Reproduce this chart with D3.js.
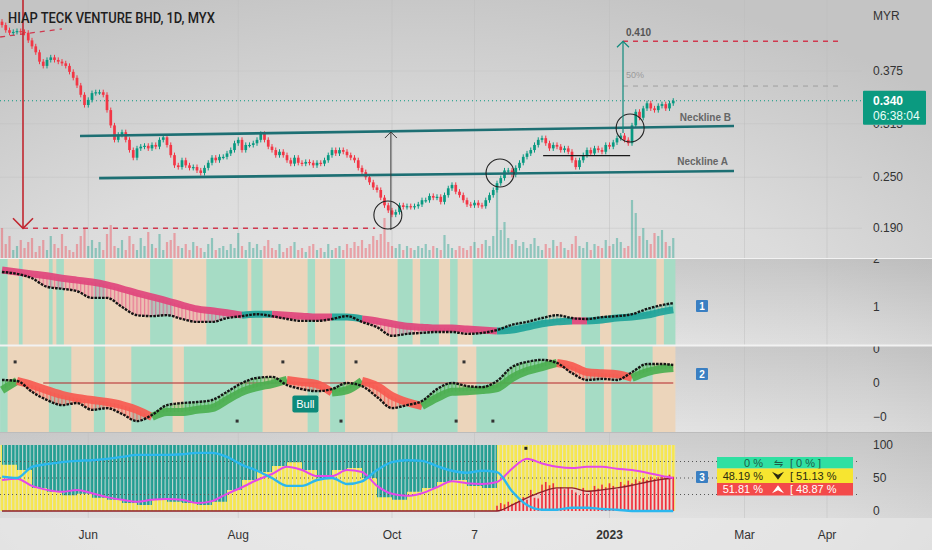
<!DOCTYPE html>
<html><head><meta charset="utf-8">
<script src="https://cdn.jsdelivr.net/npm/d3@7/dist/d3.min.js"></script>
<style>
body{margin:0;background:#e3e3e3;overflow:hidden}
svg{display:block;font-family:"Liberation Sans",Arial,sans-serif}
</style></head>
<body><svg id="c" width="932" height="550"></svg>
<script>
// ---------------- DATA ----------------
const title = "HIAP TECK VENTURE BHD, 1D, MYX";
const currency = "MYR";
const closes = [
0.429,0.423,0.420,0.421,0.422,0.421,0.420,0.411,0.404,0.397,
0.386,0.381,0.388,0.391,0.388,0.386,0.384,0.381,0.374,0.367,
0.358,0.347,0.335,0.341,0.349,0.350,0.350,0.347,0.329,0.311,
0.294,0.300,0.303,0.294,0.282,0.273,0.284,0.286,0.287,0.284,
0.288,0.286,0.294,0.297,0.288,0.276,0.264,0.262,0.270,0.264,
0.261,0.262,0.258,0.255,0.261,0.267,0.273,0.270,0.274,0.274,
0.278,0.282,0.290,0.294,0.282,0.288,0.288,0.290,0.294,0.301,
0.294,0.286,0.282,0.276,0.280,0.276,0.270,0.266,0.273,0.267,
0.266,0.268,0.267,0.264,0.267,0.266,0.270,0.276,0.282,0.278,
0.282,0.280,0.276,0.273,0.270,0.261,0.256,0.250,0.244,0.238,
0.235,0.226,0.217,0.211,0.206,0.209,0.217,0.215,0.216,0.215,
0.216,0.218,0.223,0.223,0.228,0.226,0.227,0.221,0.229,0.237,
0.241,0.233,0.229,0.223,0.218,0.217,0.220,0.217,0.216,0.223,
0.229,0.235,0.243,0.249,0.258,0.258,0.253,0.261,0.267,0.274,
0.278,0.282,0.288,0.294,0.296,0.290,0.284,0.288,0.286,0.282,
0.284,0.280,0.270,0.262,0.270,0.276,0.282,0.278,0.284,0.282,
0.280,0.288,0.286,0.291,0.296,0.299,0.294,0.290,0.311,0.327,
0.320,0.331,0.337,0.331,0.329,0.334,0.336,0.331,0.337,0.340];
const firstOpen = 0.433;
const wickTick = 0.003;
const volumes = [
30,14,22,8,12,18,10,16,20,6, 12,18,8,22,14,10,24,12,8,6,
14,22,30,12,18,10,16,8,24,33, 12,10,18,8,22,14,8,20,12,26,
14,10,24,8,16,18,25,12,10,14, 8,16,12,10,6,14,20,8,10,12,
8,14,10,25,12,8,16,10,14,8, 12,18,10,8,14,6,10,12,16,8,
10,6,12,14,8,10,6,14,8,10, 12,8,14,10,16,12,18,10,14,22,
18,24,40,16,12,10,14,8,12,10, 8,12,10,14,8,12,10,8,23,14,
10,8,12,10,8,12,16,10,14,18, 12,22,68,28,36,20,14,18,12,16,
10,14,20,12,8,14,10,18,12,16, 10,8,14,22,12,10,16,8,14,12,
10,18,12,14,20,16,10,12,58,45, 22,30,18,14,25,22,28,16,12,20];
const priceTicks = [0.375, 0.313, 0.250, 0.190];
const lastPrice = 0.340;
const lastPriceText = "0.340";
const countdown = "06:38:04";
const timeTickIdx = [23, 63, 104, 126, 162, 198, 220];
const timeTickLabels = ["Jun", "Aug", "Oct", "7", "2023", "Mar", "Apr"];

// indicator samples (bar index)
const sampleIdx = [0,4,8,12,16,20,24,28,32,36,40,44,48,52,56,60,64,68,72,76,80,84,88,92,96,100,104,108,112,116,120,124,128,132,136,140,144,148,152,156,160,164,168,172,176,179];
// pane 1
const p1Slow = [1.77,1.73,1.69,1.65,1.60,1.56,1.52,1.46,1.38,1.29,1.21,1.13,1.04,0.96,0.92,0.88,0.83,0.85,0.85,0.83,0.81,0.79,0.79,0.79,0.75,0.71,0.65,0.60,0.58,0.56,0.56,0.54,0.52,0.50,0.52,0.58,0.65,0.69,0.71,0.71,0.73,0.77,0.79,0.83,0.90,0.94];
const p1Fast = [1.73,1.69,1.60,1.42,1.38,1.33,1.19,1.19,1.00,0.83,0.81,0.83,0.75,0.69,0.69,0.77,0.81,0.85,0.81,0.75,0.71,0.71,0.75,0.81,0.69,0.58,0.40,0.44,0.46,0.48,0.48,0.44,0.46,0.52,0.63,0.69,0.77,0.83,0.77,0.75,0.79,0.81,0.85,0.96,1.04,1.08];
const p1State = [0,0,0,0,0,0,0,0,0,0,0,0,0,0,0,0,1,1,0,0,0,0,1,1,0,0,0,0,0,0,0,0,0,1,1,1,1,1,0,1,1,1,1,1,1,1];
const p1BandStart = [0,2,5,6,13,14,15,17,25,28,40,46,55,66,67,70,82,84,88,92,106,110,112,117,120,122,126,146,155,160,163,175,177];
const p1BandState = [1,0,1,0,1,0,1,0,1,0,1,0,1,0,1,0,1,0,1,0,1,0,1,0,1,0,1,0,1,0,1,0,1];
const p1Ticks = [2, 1], p1TickLabels = ["2", "1"];
// pane 2
const p2Slow = [-0.21,0.06,-0.06,-0.21,-0.35,-0.44,-0.50,-0.56,-0.65,-0.79,-1.00,-0.85,-0.85,-0.79,-0.74,-0.50,-0.26,-0.12,-0.03,0.09,0.03,-0.03,-0.28,-0.21,0.06,-0.09,-0.38,-0.56,-0.68,-0.44,-0.26,-0.24,-0.21,-0.15,0.15,0.35,0.47,0.59,0.50,0.32,0.29,0.26,0.15,0.32,0.41,0.44];
const p2Fast = [0.09,0.06,-0.26,-0.50,-0.65,-0.59,-0.79,-0.74,-0.91,-1.12,-0.94,-0.65,-0.59,-0.56,-0.50,-0.26,0.00,0.15,0.18,-0.06,-0.18,-0.24,-0.18,0.00,-0.09,-0.41,-0.74,-0.65,-0.53,-0.18,0.00,-0.09,-0.12,0.06,0.47,0.62,0.68,0.59,0.29,0.09,0.12,0.09,0.32,0.56,0.56,0.53];
const p2State = [1,0,0,0,0,0,0,0,0,0,1,1,1,1,1,1,1,1,1,0,0,0,1,1,0,0,0,0,1,1,1,1,1,1,1,1,1,0,0,0,0,0,1,1,1,1];
const p2BandStart = [0,2,13,19,25,28,35,46,49,70,82,85,88,92,106,122,127,146,156,161,163,174];
const p2BandState = [1,0,1,0,1,0,1,0,1,0,1,0,1,0,1,0,1,0,1,0,1,0];
const p2Ticks = [1, 0, -1], p2TickLabels = ["0", "0", "\u22120"];
const p2ZeroLineFrom = 11;
const p2MarkTop = [3.5, 74.9, 94.4, 123.2], p2MarkTopVal = 0.62;
const p2MarkBot = [62.7, 90.4, 121.1, 130.9], p2MarkBotVal = -1.12;
const bullLabel = {i: 80.9, v: -0.62, text: "Bull"};
// pane 3
const p3Blue = [52,50,67,71,74,76,77,79,82,85,85,85,86,88,88,82,70,61,50,38,38,47,50,41,45,62,74,77,76,68,61,58,61,59,30,9,2,2,5,5,3,2,0,0,0,0];
const p3Magenta = [47,49,38,32,29,32,27,21,17,14,17,18,17,12,15,26,36,47,56,67,62,53,53,62,59,38,26,23,27,36,45,42,41,44,64,79,72,67,65,67,67,64,62,58,53,50];
const p3DarkRed = [0,0,0,0,0,0,0,0,0,0,0,0,0,0,0,0,0,0,0,0,0,0,0,0,0,0,0,0,0,0,0,0,0,0,9,20,29,35,35,30,32,35,39,44,48,50];
const p3TealBound = [70,62,35,29,24,26,20,17,12,9,17,14,12,9,14,32,47,59,68,74,62,50,62,65,50,21,17,29,35,44,47,38,35,100,100,100,100,100,100,100,100,100,100,100,100,100];
const redBarStart = 132;
const redBars = [8,12,10,14,11,13,18,21,17,32,20,19,40,44,39,42,34,36,33,35,32,28,24,35,26,30,38,34,40,36,42,38,33,44,40,46,42,48,45,50,47,52,49,51,53,50,55,52];
const p3Ticks = [100, 50, 0], p3TickLabels = ["100", "50", "0"];
const p3Levels = [75, 50, 25];
const p3Mark = {i: 139.7, v: 95};
const tableRows = [
  ["0 %", "\u21CB", "[ 0 % ]"],
  ["48.19 %", "down", "[ 51.13 %"],
  ["51.81 %", "up", "[ 48.87 %"]];
// drawings on price pane (bar index, price)
const dropArrow = {i: 5.6, from: 0.4585, to: 0.190};
const supportLevel = {price: 0.190, from: 5.6, to: 99.5};
const topDash = [[-0.5, 0.415], [16, 0.4245]];
const necklineB = [[20.8, 0.2985], [195.2, 0.3103]];
const necklineA = [[25.9, 0.2490], [195.2, 0.2573]];
const baseLine = [[144.3, 0.2755], [167.5, 0.2755]];
const circles = [[102.9, 0.2056], [132.8, 0.2550], [167.5, 0.3079]];
const measureArrow = {i: 103.7, from: 0.1879, to: 0.3032};
const targetArrow = {i: 165.6, from: 0.3020, to: 0.410};
const targetLevel = {price: 0.410, from: 165.6, to: 223.5, label: "0.410"};
const halfLevel = {price: 0.3573, from: 165.6, to: 223.5, label: "50%"};

// ---------------- SCALES ----------------
const W = 932, H = 550, plotRight = 862, dataRight = 677;
const x = d3.scaleLinear().domain([0, 229.333]).range([2, 862]);
const yP = d3.scaleLinear().domain([0.190, 0.375]).range([228.25, 71]);
const yV = d3.scaleLinear().domain([0, 100]).range([258, 158]);
const y1 = d3.scaleLinear().domain([1, 2]).range([307, 259]);
const y2 = d3.scaleLinear().domain([-1, 1]).range([417, 349]);
const y3 = d3.scaleLinear().domain([0, 100]).range([511, 445]);

const svg = d3.select('#c');
const defs = svg.append('defs');

// background
const rg = defs.append('radialGradient').attr('id', 'bg').attr('cx', '45%').attr('cy', '75%').attr('r', '80%');
rg.append('stop').attr('offset', '0%').attr('stop-color', '#ececec');
rg.append('stop').attr('offset', '60%').attr('stop-color', '#dcdcdc');
rg.append('stop').attr('offset', '100%').attr('stop-color', '#c4c4c4');
svg.append('rect').attr('width', W).attr('height', H).attr('fill', 'url(#bg)');
const pg = defs.append('linearGradient').attr('id', 'paneShade').attr('x1', 0).attr('y1', 0).attr('x2', 0).attr('y2', 1);
pg.append('stop').attr('offset', '0%').attr('stop-color', '#000').attr('stop-opacity', 0.10);
pg.append('stop').attr('offset', '100%').attr('stop-color', '#000').attr('stop-opacity', 0);
[[259, 86], [346, 86], [433, 85]].forEach(([t, h]) => svg.append('rect').attr('x', 0).attr('y', t).attr('width', W).attr('height', h).attr('fill', 'url(#paneShade)'));
svg.append('rect').attr('x', 0).attr('y', 518).attr('width', W).attr('height', 32).attr('fill', '#e9e9e9').attr('opacity', 0.6);

function clip(id, x0, y0, w, h) {
  defs.append('clipPath').attr('id', id).append('rect').attr('x', x0).attr('y', y0).attr('width', w).attr('height', h);
}
clip('cMain', 0, 0, plotRight, 258);
clip('cP1', 0, 259, dataRight, 86);
clip('cP2', 0, 346, dataRight, 86);
clip('cP1ax', 860, 258, 72, 87);
clip('cP2ax', 860, 346, 72, 86);
clip('cTable', 717, 440, 136, 70);
// price labels: everything except the last-price box area
const cpa = defs.append('clipPath').attr('id', 'cPriceAx');
cpa.append('rect').attr('x', 860).attr('y', 0).attr('width', 72).attr('height', 90);
cpa.append('rect').attr('x', 860).attr('y', 125).attr('width', 72).attr('height', 133);

function stripe(id, color, bgOp, lineOp) {
  const p = defs.append('pattern').attr('id', id).attr('patternUnits', 'userSpaceOnUse')
    .attr('width', 3.75).attr('height', 20).attr('x', 1.4).attr('y', 0);
  p.append('rect').attr('width', 3.75).attr('height', 20).attr('fill', color).attr('opacity', bgOp);
  p.append('rect').attr('width', 1.2).attr('height', 20).attr('fill', color).attr('opacity', lineOp);
}
stripe('sPink', '#e8487e', 0.15, 0.6);
stripe('sTeal', '#1ea89b', 0.15, 0.55);
stripe('sRed', '#f5544c', 0.25, 0.75);
stripe('sGreen', '#47ad47', 0.25, 0.75);
const gap = defs.append('pattern').attr('id', 'gap').attr('patternUnits', 'userSpaceOnUse')
  .attr('width', 3.75).attr('height', 20).attr('x', 3.35).attr('y', 0);
gap.append('rect').attr('width', 1.05).attr('height', 20).attr('fill', '#e3e3e3').attr('opacity', 0.85);

// ---------------- GRID ----------------
const grid = svg.append('g');
grid.selectAll('line.v').data(timeTickIdx).join('line')
  .attr('x1', d => x(d)).attr('x2', d => x(d)).attr('y1', 0).attr('y2', 518)
  .attr('stroke', '#bdbdbd').attr('stroke-opacity', 0.45).attr('stroke-width', 1);
grid.selectAll('line.h').data(priceTicks).join('line')
  .attr('x1', 0).attr('x2', plotRight).attr('y1', d => yP(d)).attr('y2', d => yP(d))
  .attr('stroke', '#bdbdbd').attr('stroke-opacity', 0.35);

// ---------------- MAIN PANE ----------------
const candles = closes.map((c, i) => {
  const o = i === 0 ? firstOpen : closes[i - 1];
  return {i, o, c, h: Math.max(o, c) + wickTick, l: Math.min(o, c) - wickTick, v: volumes[i], up: c >= o};
});
const main = svg.append('g').attr('clip-path', 'url(#cMain)');
main.selectAll('rect.vol').data(candles).join('rect')
  .attr('x', d => x(d.i) - 1.1).attr('width', 2.2)
  .attr('y', d => yV(d.v)).attr('height', d => yV(0) - yV(d.v))
  .attr('fill', d => d.up ? 'rgba(8,153,129,0.38)' : 'rgba(242,54,69,0.38)');

// red dashed support + top dash
main.append('line').attr('x1', x(supportLevel.from)).attr('x2', x(supportLevel.to))
  .attr('y1', yP(supportLevel.price)).attr('y2', yP(supportLevel.price))
  .attr('stroke', '#d0394f').attr('stroke-width', 1.3).attr('stroke-dasharray', '5,5');
main.append('line').attr('x1', x(topDash[0][0])).attr('y1', yP(topDash[0][1]))
  .attr('x2', x(topDash[1][0])).attr('y2', yP(topDash[1][1]))
  .attr('stroke', '#d0394f').attr('stroke-width', 1.3).attr('stroke-dasharray', '5,5');
// target & 50% levels
main.append('line').attr('x1', x(targetLevel.from)).attr('x2', x(targetLevel.to))
  .attr('y1', yP(targetLevel.price)).attr('y2', yP(targetLevel.price))
  .attr('stroke', '#d0394f').attr('stroke-width', 1.3).attr('stroke-dasharray', '5,5');
main.append('line').attr('x1', x(halfLevel.from)).attr('x2', x(halfLevel.to))
  .attr('y1', yP(halfLevel.price)).attr('y2', yP(halfLevel.price))
  .attr('stroke', '#9e9e9e').attr('stroke-width', 1).attr('stroke-dasharray', '5,5');
// last price dotted
main.append('line').attr('x1', 0).attr('x2', plotRight).attr('y1', yP(lastPrice)).attr('y2', yP(lastPrice))
  .attr('stroke', '#089981').attr('stroke-width', 1).attr('stroke-dasharray', '1,3');

// candles
const cg = main.append('g');
cg.selectAll('line').data(candles).join('line')
  .attr('x1', d => x(d.i)).attr('x2', d => x(d.i)).attr('y1', d => yP(d.h)).attr('y2', d => yP(d.l))
  .attr('stroke', d => d.up ? '#089981' : '#f23645').attr('stroke-width', 1);
cg.selectAll('rect').data(candles).join('rect')
  .attr('x', d => x(d.i) - 1.35).attr('width', 2.7)
  .attr('y', d => yP(Math.max(d.o, d.c)))
  .attr('height', d => Math.max(1.2, Math.abs(yP(d.o) - yP(d.c))))
  .attr('fill', d => d.up ? '#089981' : '#f23645');

// necklines
[necklineB, necklineA].forEach(l => main.append('line')
  .attr('x1', x(l[0][0])).attr('y1', yP(l[0][1])).attr('x2', x(l[1][0])).attr('y2', yP(l[1][1]))
  .attr('stroke', '#1d6f73').attr('stroke-width', 2.6));
main.append('line').attr('x1', x(baseLine[0][0])).attr('x2', x(baseLine[1][0]))
  .attr('y1', yP(baseLine[0][1])).attr('y2', yP(baseLine[1][1])).attr('stroke', '#1a1a1a').attr('stroke-width', 1.2);
main.selectAll('circle.m').data(circles).join('circle')
  .attr('cx', d => x(d[0])).attr('cy', d => yP(d[1])).attr('r', 14)
  .attr('fill', 'none').attr('stroke', '#222').attr('stroke-width', 1.1);

function vArrow(a, color, w, head) {
  const xx = x(a.i), yt = yP(a.to), yb = yP(a.from);
  main.append('line').attr('x1', xx).attr('x2', xx).attr('y1', yt).attr('y2', yb).attr('stroke', color).attr('stroke-width', w);
  const dir = yt < yb ? 1 : -1;
  main.append('path').attr('d', `M${xx - head},${yt + dir * head}L${xx},${yt}L${xx + head},${yt + dir * head}`)
    .attr('fill', 'none').attr('stroke', color).attr('stroke-width', w);
}
vArrow(measureArrow, '#3a3a3a', 1, 6);
vArrow(targetArrow, '#0f8a7c', 1.2, 6);
vArrow({i: dropArrow.i, from: dropArrow.from, to: dropArrow.to}, '#c0262f', 1.6, 10);

main.append('text').attr('x', x(targetLevel.from) + 3).attr('y', yP(targetLevel.price) - 5)
  .attr('font-size', 10).attr('font-weight', 'bold').attr('fill', '#555').text(targetLevel.label);
main.append('text').attr('x', x(halfLevel.from) + 3).attr('y', yP(halfLevel.price) - 8)
  .attr('font-size', 9).attr('fill', '#9a9a9a').text(halfLevel.label);
main.append('text').attr('x', x(necklineB[1][0]) - 3).attr('y', yP(necklineB[1][1]) - 5)
  .attr('text-anchor', 'end').attr('font-size', 10).attr('font-weight', 'bold').attr('fill', '#666').text('Neckline B');
main.append('text').attr('x', x(necklineA[1][0]) - 6).attr('y', yP(necklineA[1][1]) - 6)
  .attr('text-anchor', 'end').attr('font-size', 10).attr('font-weight', 'bold').attr('fill', '#666').text('Neckline A');

svg.append('text').attr('x', 8).attr('y', 23).attr('font-size', 14).attr('font-family', 'Roboto, "Liberation Sans", sans-serif')
  .attr('font-weight', 500).attr('fill', '#1e1e1e').attr('textLength', 207).attr('lengthAdjust', 'spacingAndGlyphs').text(title);

// price axis
const axisX = 873;
svg.append('text').attr('x', axisX).attr('y', 20).attr('font-size', 12).attr('fill', '#333').text(currency);
svg.append('g').attr('clip-path', 'url(#cPriceAx)')
  .selectAll('text.pt').data(priceTicks).join('text').attr('class', 'pt')
  .attr('x', axisX).attr('y', d => yP(d)).attr('dy', '0.35em').attr('font-size', 12).attr('fill', '#333')
  .text(d3.format('.3f'));
const lpY = yP(lastPrice);
svg.append('rect').attr('x', 863).attr('y', lpY - 10).attr('width', 63).attr('height', 34).attr('rx', 1).attr('fill', '#0b9a80');
svg.append('text').attr('x', axisX).attr('y', lpY + 4).attr('font-size', 12).attr('font-weight', 'bold').attr('fill', '#fff').text(lastPriceText);
svg.append('text').attr('x', axisX).attr('y', lpY + 19).attr('font-size', 12).attr('fill', '#e8fff8').text(countdown);

// ---------------- RIBBON PANES ----------------
function runsOf(states) {
  const r = []; let s = 0;
  for (let k = 1; k <= states.length; k++) {
    if (k === states.length || states[k] !== states[s]) { r.push({state: states[s], from: s, to: Math.min(k, states.length - 1)}); s = k; }
  }
  return r;
}
function bands(g, starts, states, top, h, cols) {
  g.selectAll('rect.b').data(starts).join('rect')
    .attr('x', (d, k) => x(d - 0.5)).attr('y', top)
    .attr('width', (d, k) => x((k + 1 < starts.length ? starts[k + 1] : 180) - 0.5) - x(d - 0.5) + 0.3)
    .attr('height', h).attr('fill', (d, k) => cols[states[k]]);
}
function ribbonPane(g, slow, fast, states, y, fills, strokes, sw) {
  const pts = sampleIdx.map((i, k) => ({i, s: slow[k], f: fast[k]}));
  const rs = runsOf(states);
  rs.forEach(r => {
    const seg = pts.slice(r.from, r.to + 1);
    g.append('path').datum(seg).attr('d', d3.area().x(d => x(d.i)).y0(d => y(d.s)).y1(d => y(d.f)).curve(d3.curveMonotoneX))
      .attr('fill', fills[r.state]);
  });
  rs.forEach(r => {
    const seg = pts.slice(r.from, r.to + 1);
    g.append('path').datum(seg).attr('d', d3.line().x(d => x(d.i)).y(d => y(d.s)).curve(d3.curveMonotoneX))
      .attr('fill', 'none').attr('stroke', strokes[r.state]).attr('stroke-width', sw).attr('stroke-opacity', 0.92);
  });
  g.append('path').datum(pts).attr('d', d3.line().x(d => x(d.i)).y(d => y(d.f)).curve(d3.curveMonotoneX))
    .attr('fill', 'none').attr('stroke', '#141414').attr('stroke-width', 2.4).attr('stroke-dasharray', '2.6,1.15');
}
const g1 = svg.append('g').attr('clip-path', 'url(#cP1)');
bands(g1, p1BandStart, p1BandState, 259, 86, ['#ecd5bb', '#a6dcc5']);
ribbonPane(g1, p1Slow, p1Fast, p1State, y1, ['url(#sPink)', 'url(#sTeal)'], ['#e0457c', '#1ea399'], 7);

const g2 = svg.append('g').attr('clip-path', 'url(#cP2)');
bands(g2, p2BandStart, p2BandState, 346, 86, ['#ecd5bb', '#a6dcc5']);
g2.append('line').attr('x1', x(p2ZeroLineFrom)).attr('x2', x(179)).attr('y1', y2(0)).attr('y2', y2(0))
  .attr('stroke', '#b3262b').attr('stroke-width', 1.1);
ribbonPane(g2, p2Slow, p2Fast, p2State, y2, ['url(#sRed)', 'url(#sGreen)'], ['#f75a50', '#4caf50'], 8);
g2.selectAll('rect.mt').data(p2MarkTop.map(i => [i, p2MarkTopVal]).concat(p2MarkBot.map(i => [i, p2MarkBotVal])))
  .join('rect').attr('x', d => x(d[0]) - 1.5).attr('y', d => y2(d[1]) - 1.5).attr('width', 3).attr('height', 3).attr('fill', '#333');
const bl = g2.append('g').attr('transform', `translate(${x(bullLabel.i)},${y2(bullLabel.v)})`);
bl.append('rect').attr('x', -13).attr('y', -8.5).attr('width', 26).attr('height', 17).attr('rx', 2).attr('fill', '#0d8a7a');
bl.append('text').attr('text-anchor', 'middle').attr('dy', '0.36em').attr('font-size', 11).attr('fill', '#fff').text(bullLabel.text);

// ---------------- PANE 3 ----------------
const g3 = svg.append('g');
const pts3 = sampleIdx.map((i, k) => ({i, b: p3Blue[k], m: p3Magenta[k], r: p3DarkRed[k], t: p3TealBound[k]}));
g3.append('rect').attr('x', x(-0.5)).attr('width', x(179.5) - x(-0.5)).attr('y', y3(100)).attr('height', y3(0) - y3(100)).attr('fill', '#f6e64e');
g3.append('path').datum(pts3).attr('d', d3.area().x(d => x(d.i)).y0(y3(100)).y1(d => y3(d.t)).curve(d3.curveStepAfter))
  .attr('fill', '#239e92');
g3.append('path').datum(pts3).attr('d', d3.area().x(d => x(d.i)).y0(y3(0)).y1(d => y3(d.r)).curve(d3.curveMonotoneX))
  .attr('fill', '#f3bccb').attr('opacity', 0.85);
g3.append('rect').attr('x', x(-0.5)).attr('width', x(179.5) - x(-0.5)).attr('y', y3(100)).attr('height', y3(0) - y3(100)).attr('fill', 'url(#gap)');
g3.selectAll('rect.rb').data(redBars).join('rect')
  .attr('x', (d, k) => x(redBarStart + k) - 0.8).attr('width', 1.6)
  .attr('y', d => y3(d)).attr('height', d => y3(0) - y3(d)).attr('fill', '#ee2f3c');
g3.selectAll('line.lv').data(p3Levels).join('line')
  .attr('x1', 0).attr('x2', 860).attr('y1', d => y3(d)).attr('y2', d => y3(d))
  .attr('stroke', '#555').attr('stroke-width', 1).attr('stroke-dasharray', '1,3');
g3.append('path').datum(pts3).attr('d', d3.line().x(d => x(d.i)).y(d => y3(d.r)).curve(d3.curveMonotoneX))
  .attr('fill', 'none').attr('stroke', '#8e1f2a').attr('stroke-width', 1.4);
g3.append('path').datum(pts3).attr('d', d3.line().x(d => x(d.i)).y(d => y3(d.m)).curve(d3.curveMonotoneX))
  .attr('fill', 'none').attr('stroke', '#e547e8').attr('stroke-width', 2);
g3.append('path').datum(pts3).attr('d', d3.line().x(d => x(d.i)).y(d => y3(d.b)).curve(d3.curveMonotoneX))
  .attr('fill', 'none').attr('stroke', '#2bb7ee').attr('stroke-width', 2.4);
g3.append('rect').attr('x', x(p3Mark.i) - 1.5).attr('y', y3(p3Mark.v) - 1.5).attr('width', 3).attr('height', 3).attr('fill', '#222');

// table
const tb = svg.append('g').attr('clip-path', 'url(#cTable)');
const rowY = [457, 468.5, 483], rowH = [11.5, 14.5, 12.5];
const rowFill = ['#2fe0a2', '#f7e530', '#f34a4a'], rowText = ['#1d5c48', '#2b2b10', '#ffffff'];
tableRows.forEach((r, k) => {
  tb.append('rect').attr('x', 717).attr('y', rowY[k]).attr('width', 136).attr('height', rowH[k]).attr('fill', rowFill[k]);
  const cy = rowY[k] + rowH[k] / 2;
  tb.append('text').attr('x', 763).attr('y', cy).attr('dy', '0.36em').attr('text-anchor', 'end').attr('font-size', 11).attr('fill', rowText[k]).text(r[0]);
  if (r[1] === 'down' || r[1] === 'up') {
    const s = r[1] === 'down' ? 1 : -1;
    tb.append('path').attr('d', `M${772},${cy - 4 * s}L${778},${cy + 4 * s}L${784},${cy - 4 * s}L${778},${cy - 1 * s}Z`).attr('fill', rowText[k]);
  } else {
    tb.append('text').attr('x', 778).attr('y', cy).attr('dy', '0.36em').attr('text-anchor', 'middle').attr('font-size', 11).attr('fill', rowText[k]).text(r[1]);
  }
  tb.append('text').attr('x', 790).attr('y', cy).attr('dy', '0.36em').attr('font-size', 11).attr('fill', rowText[k]).text(r[2]);
});

// pane axes
function axisLabels(vals, labels, scale, clipId) {
  const g = svg.append('g');
  if (clipId) g.attr('clip-path', `url(#${clipId})`);
  g.selectAll('text').data(vals).join('text').attr('x', axisX).attr('y', d => scale(d)).attr('dy', '0.35em')
    .attr('font-size', 12).attr('fill', '#333').text((d, k) => labels[k]);
}
axisLabels(p1Ticks, p1TickLabels, y1, 'cP1ax');
axisLabels(p2Ticks, p2TickLabels, y2, 'cP2ax');
axisLabels(p3Ticks, p3TickLabels, y3, null);

// pane number boxes
[[306, '1'], [374, '2'], [477, '3']].forEach(([cy, t]) => {
  svg.append('rect').attr('x', 696).attr('y', cy - 6).attr('width', 12).attr('height', 12).attr('rx', 1).attr('fill', '#3a7fc2');
  svg.append('text').attr('x', 702).attr('y', cy).attr('dy', '0.36em').attr('text-anchor', 'middle')
    .attr('font-size', 10).attr('font-weight', 'bold').attr('fill', '#fff').text(t);
});

// separators
svg.append('line').attr('x1', 0).attr('x2', W).attr('y1', 258.5).attr('y2', 258.5).attr('stroke', '#f2f2f2').attr('stroke-width', 1.2);
svg.append('line').attr('x1', 0).attr('x2', W).attr('y1', 345.5).attr('y2', 345.5).attr('stroke', '#f2f2f2').attr('stroke-width', 2);
svg.append('line').attr('x1', 0).attr('x2', W).attr('y1', 432.5).attr('y2', 432.5).attr('stroke', '#bcbcbc').attr('stroke-width', 1);

// time axis
svg.selectAll('text.tt').data(timeTickIdx).join('text').attr('class', 'tt')
  .attr('x', d => x(d)).attr('y', 539).attr('text-anchor', 'middle').attr('font-size', 12)
  .attr('font-weight', (d, k) => timeTickLabels[k] === '2023' ? 'bold' : 'normal')
  .attr('fill', '#333').text((d, k) => timeTickLabels[k]);
</script></body></html>
